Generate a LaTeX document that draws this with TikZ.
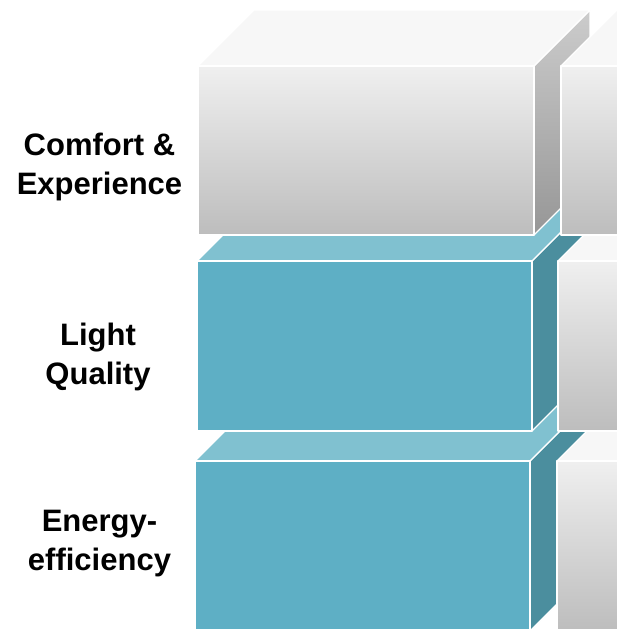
\documentclass[tikz,border=0pt]{standalone}
\usepackage{fontspec}
\setmainfont{Liberation Sans}
\definecolor{tealfront}{HTML}{5EAFC5}
\definecolor{tealtop}{HTML}{80C1D0}
\definecolor{tealside}{HTML}{4B8E9E}
\begin{document}
\begin{tikzpicture}[x=1pt, y=-1pt, line join=round, line cap=round,
  face/.style={draw=white, line width=1.3pt},
  tealfrontface/.style={fill=tealfront},
  tealtopface/.style={fill=tealtop},
  tealsideface/.style={fill=tealside},
  grayfrontface/.style={top color=black!6, bottom color=black!26},
  graytopface/.style={fill=black!3},
  graysideface/.style={top color=black!20, bottom color=black!41},
  label/.style={font=\bfseries\fontsize{31}{39}\selectfont, align=center, anchor=base, inner sep=0pt}]
  \useasboundingbox (0,0) rectangle (617,629);
  \clip (0,0) rectangle (617,629);

  % rows from the bottom up, left column before right column
  \foreach \xa/\xb/\ya/\yb/\fr/\tp/\sd in {
      195/530/461/631/tealfrontface/tealtopface/tealsideface,
      557/893/461/631/grayfrontface/graytopface/graysideface,
      197/532/261/431/tealfrontface/tealtopface/tealsideface,
      558/894/261/431/grayfrontface/graytopface/graysideface,
      198/534/66/235/grayfrontface/graytopface/graysideface,
      561/897/66/235/grayfrontface/graytopface/graysideface} {
    \draw[face, \sd] (\xb,\yb) -- (\xb,\ya) -- ++(56,-56) -- ++(0,\yb-\ya) -- cycle;
    \draw[face, \tp] (\xa,\ya) -- ++(56,-56) -- ++(\xb-\xa,0) -- (\xb,\ya) -- cycle;
    \draw[face, \fr] (\xa,\ya) rectangle (\xb,\yb);
  }

  % anchor base sits on the last line
  \node[label] (comfort) at (99.5,194) {Comfort \&\\Experience};
  \node[label] (light) at (98,384) {Light\\Quality};
  \node[label] (energy) at (99.5,570) {Energy-\\efficiency};
\end{tikzpicture}
\end{document}
